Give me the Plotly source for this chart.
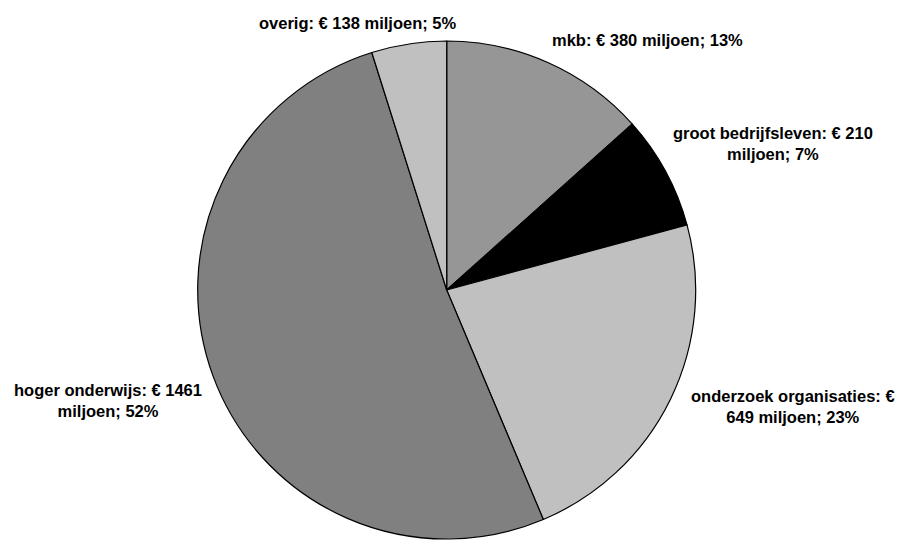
import plotly.graph_objects as go

# Data
categories = ["mkb", "groot bedrijfsleven", "onderzoek organisaties", "hoger onderwijs", "overig"]
values = [380, 210, 649, 1461, 138]          # € miljoen
percentages = [13, 7, 23, 52, 5]             # as printed in the labels
colors = ["#969696", "#000000", "#c0c0c0", "#808080", "#c0c0c0"]

# Layout (label placement in pixels and where each label wraps)
W, H = 898, 541
label_pos = [(647.5, 40), (773, 143), (793, 406), (107.5, 400), (357, 23)]
wrap_before = [None, "miljoen", "649", "miljoen", None]

fig = go.Figure()
fig.add_trace(go.Pie(
    labels=categories,
    values=values,
    sort=False,
    direction="clockwise",
    rotation=0,
    textinfo="none",
    hoverinfo="label+value",
    marker=dict(colors=colors, line=dict(color="#000000", width=1.2)),
    domain=dict(x=[(446.7 - 249) / W, (446.7 + 249) / W],
                y=[(H - 290 - 249) / H, (H - 290 + 249) / H]),
    showlegend=False,
))

for cat, val, pct, (px, py), wb in zip(categories, values, percentages, label_pos, wrap_before):
    txt = f"{cat}: € {val} miljoen; {pct}%"
    if wb:
        i = txt.index(wb)
        txt = txt[:i].rstrip() + "<br>" + txt[i:]
    fig.add_annotation(
        x=px / W, y=1 - py / H, xref="paper", yref="paper",
        text=txt, showarrow=False, xanchor="center", yanchor="middle",
        align="center",
        font=dict(family="Liberation Sans, Arial, sans-serif", size=16.5,
                  color="#000000", weight="bold"),
    )

fig.update_layout(
    width=W, height=H,
    margin=dict(l=0, r=0, t=0, b=0),
    paper_bgcolor="#ffffff",
    plot_bgcolor="#ffffff",
)

fig.write_html("out.html")
